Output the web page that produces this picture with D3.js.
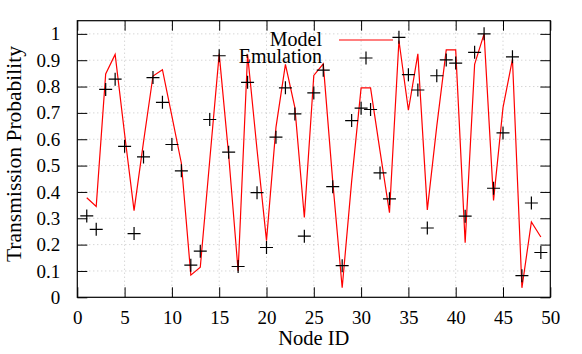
<!DOCTYPE html>
<html>
<head>
<meta charset="utf-8">
<script src="https://cdn.jsdelivr.net/npm/d3@7"></script>
<style>
  body { margin: 0; background: #fff; }
</style>
</head>
<body>
<div id="container"></div>
<script>
/* CONSTANTS AND GLOBALS */
const width = 582,
  height = 354,
  margin = { top: 20.7, left: 77.3, bottom: 56.7, right: 31.7 };

const serif = "Liberation Serif";

/* DATA */
const nodeIds = [1, 2, 3, 4, 5, 6, 7, 8, 9, 10, 11, 12, 13, 14, 15, 16, 17, 18, 19, 20,
  21, 22, 23, 24, 25, 26, 27, 28, 29, 30, 31, 32, 33, 34, 35, 36, 37, 38, 39, 40,
  41, 42, 43, 44, 45, 46, 47, 48, 49];

const modelValues = [0.378, 0.345, 0.848, 0.922, 0.62, 0.329, 0.59, 0.84, 0.864, 0.688,
  0.509, 0.084, 0.114, 0.52, 0.924, 0.54, 0.1, 0.922, 0.56, 0.215,
  0.645, 0.884, 0.72, 0.303, 0.842, 0.886, 0.44, 0.036, 0.44, 0.795,
  0.795, 0.555, 0.321, 0.975, 0.71, 0.924, 0.332, 0.65, 0.939, 0.939,
  0.207, 0.884, 1.0, 0.368, 0.72, 0.904, 0.036, 0.286, 0.229];

const emulationValues = [0.309, 0.258, 0.789, 0.828, 0.573, 0.242, 0.533, 0.834, 0.74, 0.58,
  0.48, 0.122, 0.175, 0.675, 0.917, 0.551, 0.117, 0.816, 0.397, 0.189,
  0.608, 0.795, 0.696, 0.232, 0.776, 0.862, 0.42, 0.12, 0.671, 0.718,
  0.713, 0.472, 0.374, 0.987, 0.845, 0.787, 0.263, 0.841, 0.901, 0.889,
  0.308, 0.93, 1.0, 0.414, 0.624, 0.913, 0.082, 0.358, 0.17];

const xTicks = [0, 5, 10, 15, 20, 25, 30, 35, 40, 45, 50];
const yTicks = [0, 0.1, 0.2, 0.3, 0.4, 0.5, 0.6, 0.7, 0.8, 0.9, 1];

const legendLabels = ["Model", "Emulation"];

const modelData = nodeIds.map((id, i) => ({ id: id, value: modelValues[i] }));
const emulationData = nodeIds.map((id, i) => ({ id: id, value: emulationValues[i] }));

// SCALES
const xScale = d3.scaleLinear()
  .domain([0, 50])
  .range([margin.left, width - margin.right]);

const yScale = d3.scaleLinear()
  .domain([0, 1.05])
  .range([height - margin.bottom, margin.top]);

// CREATE SVG ELEMENT
const svg = d3.select("#container")
  .append("svg")
  .attr("width", width)
  .attr("height", height)
  .attr("font-family", serif);

// GRID (dotted)
svg.append("g")
  .selectAll("line")
  .data(yTicks.filter(d => d > 0))
  .join("line")
  .attr("x1", margin.left)
  .attr("x2", width - margin.right)
  .attr("y1", d => yScale(d))
  .attr("y2", d => yScale(d))
  .attr("stroke", "#c4c4c4")
  .attr("stroke-width", 1)
  .attr("stroke-dasharray", "1,3");

svg.append("g")
  .selectAll("line")
  .data(xTicks.filter(d => d > 0 && d < 50))
  .join("line")
  .attr("x1", d => xScale(d))
  .attr("x2", d => xScale(d))
  .attr("y1", margin.top)
  .attr("y2", height - margin.bottom)
  .attr("stroke", "#c4c4c4")
  .attr("stroke-width", 1)
  .attr("stroke-dasharray", "1,3");

// BUILD AND CALL AXES (ticks point inward, mirrored on top/right)
const tickLen = 10;

const xAxis = d3.axisBottom(xScale).tickValues(xTicks).tickSize(-tickLen).tickPadding(13).tickSizeOuter(0);
svg.append("g")
  .attr("class", "axis")
  .attr("transform", `translate(0,${height - margin.bottom})`)
  .call(xAxis)
  .call(g => g.select(".domain").remove());

const xAxisTop = d3.axisTop(xScale).tickValues(xTicks).tickSize(-tickLen).tickFormat("").tickSizeOuter(0);
svg.append("g")
  .attr("transform", `translate(0,${margin.top})`)
  .call(xAxisTop)
  .call(g => g.select(".domain").remove());

const yAxis = d3.axisLeft(yScale).tickValues(yTicks).tickSize(-tickLen).tickPadding(17)
  .tickFormat(d => d === 0 || d === 1 ? d3.format("d")(d) : d3.format(".1f")(d)).tickSizeOuter(0);
svg.append("g")
  .attr("class", "axis")
  .attr("transform", `translate(${margin.left},0)`)
  .call(yAxis)
  .call(g => g.select(".domain").remove());

const yAxisRight = d3.axisRight(yScale).tickValues(yTicks).tickSize(-tickLen).tickFormat("").tickSizeOuter(0);
svg.append("g")
  .attr("transform", `translate(${width - margin.right},0)`)
  .call(yAxisRight)
  .call(g => g.select(".domain").remove());

svg.selectAll(".tick line").attr("stroke", "#000");
svg.selectAll(".axis")
  .attr("font-family", serif)
  .attr("font-size", 19);
svg.selectAll(".axis text").attr("fill", "#000");

// FRAME
svg.append("rect")
  .attr("x", margin.left)
  .attr("y", margin.top)
  .attr("width", width - margin.left - margin.right)
  .attr("height", height - margin.top - margin.bottom)
  .attr("fill", "none")
  .attr("stroke", "#000")
  .attr("stroke-width", 1.2);

// LINE GENERATOR FUNCTION
const lineGen = d3.line()
  .x(d => xScale(d.id))
  .y(d => yScale(d.value));

// DRAW MODEL LINE
svg.append("path")
  .datum(modelData)
  .attr("d", lineGen)
  .attr("fill", "none")
  .attr("stroke", "#ff0000")
  .attr("stroke-width", 1.2);

// DRAW EMULATION MARKERS (+)
const cross = 6.5;
const crossPath = `M${-cross},0H${cross}M0,${-cross}V${cross}`;

svg.append("g")
  .selectAll("path")
  .data(emulationData)
  .join("path")
  .attr("transform", d => `translate(${xScale(d.id)},${yScale(d.value)})`)
  .attr("d", crossPath)
  .attr("stroke", "#000")
  .attr("stroke-width", 1.2)
  .attr("fill", "none");

// LEGEND
const legend = svg.append("g");

legend.selectAll("text")
  .data(legendLabels)
  .join("text")
  .attr("x", 322)
  .attr("y", (d, i) => 46 + i * 17)
  .attr("text-anchor", "end")
  .attr("font-family", serif)
  .attr("font-size", 20)
  .text(d => d);

legend.append("line")
  .attr("x1", 339)
  .attr("x2", 393)
  .attr("y1", 40)
  .attr("y2", 40)
  .attr("stroke", "#ff0000")
  .attr("stroke-width", 1.2);

legend.append("path")
  .attr("transform", "translate(366,58)")
  .attr("d", crossPath)
  .attr("stroke", "#000")
  .attr("stroke-width", 1.2)
  .attr("fill", "none");

// AXIS TITLES
svg.append("text")
  .attr("x", (margin.left + width - margin.right) / 2)
  .attr("y", 345)
  .attr("text-anchor", "middle")
  .attr("font-family", serif)
  .attr("font-size", 20.5)
  .text("Node ID");

svg.append("text")
  .attr("transform", `translate(21,${(margin.top + height - margin.bottom) / 2 - 5}) rotate(-90)`)
  .attr("text-anchor", "middle")
  .attr("font-family", serif)
  .attr("font-size", 21.5)
  .text("Transmission Probability");
</script>
</body>
</html>
